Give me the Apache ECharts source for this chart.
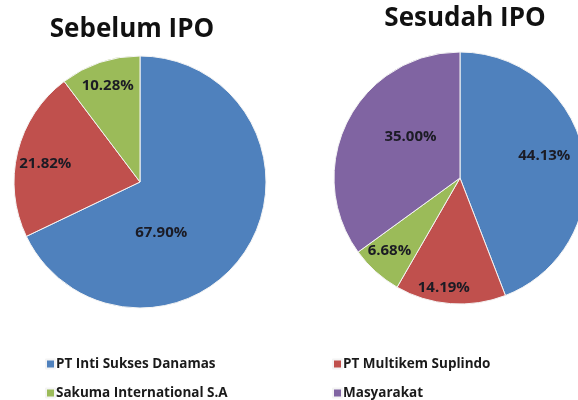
<!DOCTYPE html>
<html>
<head>
<meta charset="utf-8">
<script src="https://cdn.jsdelivr.net/npm/echarts@6/dist/echarts.min.js"></script>
<style>
  html, body { margin: 0; padding: 0; background: #fff; }
  #main { width: 578px; height: 400px; }
</style>
</head>
<body>
<div id="main"></div>
<script>
var names = ['PT Inti Sukses Danamas', 'PT Multikem Suplindo', 'Sakuma International S.A', 'Masyarakat'];
var colors = ['#4F81BD', '#C0504D', '#9BBB59', '#8064A2'];

var titles = ['Sebelum IPO', 'Sesudah IPO'];
var sebelum = [67.90, 21.82, 10.28];
var sesudah = [44.13, 14.19, 6.68, 35.00];

// pie centers (px)
var centers = [[140, 182], [460, 178]];
// label nudges: [distance factor vs default, extra turn in degrees]
var labelNudge = [
    [[0.83, 35], [1.46, -3], [1.54, 0]],
    [[1.32, -4], [1.68, 4], [1.54, 2], [0.98, 13]]
];

var chartDom = document.getElementById('main');
var myChart = echarts.init(chartDom);

function pieData(values) {
    return values.map(function (v, i) {
        return { name: names[i], value: v, itemStyle: { color: colors[i] } };
    });
}

function makePie(idx, values) {
    return {
        type: 'pie',
        center: centers[idx],
        radius: 126,
        startAngle: 90,
        clockwise: true,
        animation: false,
        silent: true,
        data: pieData(values),
        itemStyle: {
            borderColor: '#f4f4f4',
            borderWidth: 1
        },
        label: {
            position: 'inside',
            formatter: function (p) { return p.value.toFixed(2) + '%'; },
            color: '#1b1b24',
            fontFamily: 'Open Sans',
            fontWeight: 'bold',
            fontSize: 15
        },
        labelLine: { show: false },
        labelLayout: function (p) {
            var c = centers[p.seriesIndex];
            var n = labelNudge[p.seriesIndex][p.dataIndex];
            var lx = p.labelRect.x + p.labelRect.width / 2;
            var ly = p.labelRect.y + p.labelRect.height / 2;
            var rx = lx - c[0], ry = ly - c[1];
            var d = Math.sqrt(rx * rx + ry * ry) * n[0];
            var a = Math.atan2(rx, -ry) + n[1] * Math.PI / 180;
            var nx = c[0] + d * Math.sin(a), ny = c[1] - d * Math.cos(a);
            return { dx: nx - lx, dy: ny - ly };
        }
    };
}

var titleStyle = {
    fontFamily: 'Open Sans',
    fontWeight: 'bold',
    fontSize: 26,
    color: '#111'
};

var legendText = {
    fontFamily: 'Open Sans',
    fontWeight: 'bold',
    fontSize: 13.5,
    color: '#1a1a1a',
    padding: [0, 0, 0, -4]
};

function makeLegend(x, items) {
    return {
        orient: 'vertical',
        left: x,
        top: 357,
        width: 240,
        height: 60,
        padding: 0,
        itemWidth: 9,
        itemHeight: 9,
        itemGap: 15,
        icon: 'rect',
        data: items,
        textStyle: legendText
    };
}

var option = {
    backgroundColor: '#fff',
    title: [{
        text: titles[0],
        left: 132,
        top: 17,
        textAlign: 'center',
        padding: 0,
        textStyle: titleStyle
    }, {
        text: titles[1],
        left: 465,
        top: 6,
        textAlign: 'center',
        padding: 0,
        textStyle: titleStyle
    }],
    legend: [
        makeLegend(45, [names[0], names[2]]),
        makeLegend(332, [names[1], names[3]])
    ],
    series: [makePie(0, sebelum), makePie(1, sesudah)]
};

option && myChart.setOption(option);
</script>
</body>
</html>
